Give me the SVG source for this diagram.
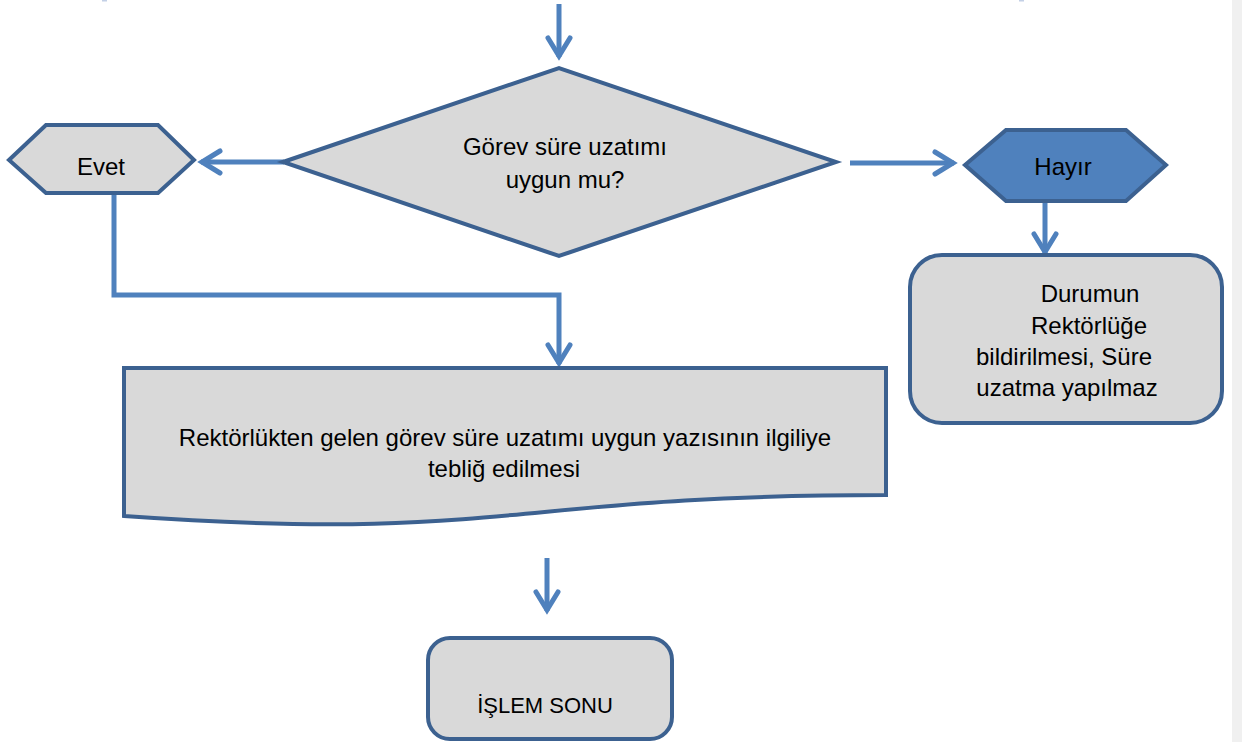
<svg xmlns="http://www.w3.org/2000/svg" width="1242" height="742" viewBox="0 0 1242 742">
  <defs>
    <style>
      .shape { fill: #d9d9d9; stroke: #3c6190; stroke-width: 4; stroke-linejoin: miter; }
      .dark { fill: #4f81bd; stroke: #3c6190; stroke-width: 4; }
      .conn { fill: none; stroke: #4f81bd; stroke-width: 5; stroke-linejoin: miter; }
      .lbl { font-family: "Liberation Sans", Arial, sans-serif; font-size: 24px; fill: #000; text-anchor: middle; }
    </style>
    <marker id="arrow" markerUnits="userSpaceOnUse" markerWidth="40" markerHeight="40" refX="0" refY="0" orient="auto" overflow="visible" viewBox="-30 -20 40 40">
      <path d="M-19,-11 L-1,0 L-19,11" fill="none" stroke="#4f81bd" stroke-width="5" stroke-linecap="round" stroke-linejoin="miter"/>
    </marker>
  </defs>

  <rect x="0" y="0" width="1242" height="742" fill="#ffffff"/>
  <rect x="1232" y="0" width="10" height="742" fill="#f0f0f0"/>
  <rect x="102" y="0" width="5" height="1.5" fill="#c3d0e6"/>
  <rect x="1019" y="0" width="5" height="1.5" fill="#c3d0e6"/>

  <g id="connectors">
    <path class="conn" d="M559,4 V57" marker-end="url(#arrow)"/>
    <path class="conn" d="M284,162 H201" marker-end="url(#arrow)"/>
    <path class="conn" d="M850,163 H954" marker-end="url(#arrow)"/>
    <path class="conn" d="M114,195 V295 H559 V364" marker-end="url(#arrow)"/>
    <path class="conn" d="M1045,202 V253" marker-end="url(#arrow)"/>
    <path class="conn" d="M547,558 V611" marker-end="url(#arrow)"/>
  </g>

  <g id="decision">
    <polygon class="shape" points="283,162 559,68 836,162 559,256"/>
    <text class="lbl" x="565" y="155">Görev süre uzatımı</text>
    <text class="lbl" x="565" y="188">uygun mu?</text>
  </g>

  <g id="evet">
    <polygon class="shape" points="9,160 46,125 158,125 194,160 158,193 46,193"/>
    <text class="lbl" x="101" y="175">Evet</text>
  </g>

  <g id="hayir">
    <polygon class="dark" points="965,165 1006,130 1126,130 1166,165 1126,201 1006,201"/>
    <text class="lbl" x="1063" y="175">Hayır</text>
  </g>

  <g id="durumun">
    <rect class="shape" x="910" y="255" width="312" height="168" rx="32" ry="32"/>
    <text class="lbl" x="1090" y="302">Durumun</text>
    <text class="lbl" x="1089" y="334">Rektörlüğe</text>
    <text class="lbl" x="1064" y="365">bildirilmesi, Süre</text>
    <text class="lbl" x="1067" y="396">uzatma yapılmaz</text>
  </g>

  <g id="teblig">
    <path class="shape" d="M124,368 H886 V495 C505,495 505,543 124,516 Z"/>
    <text class="lbl" x="505" y="446">Rektörlükten gelen görev süre uzatımı uygun yazısının ilgiliye</text>
    <text class="lbl" x="504" y="477">tebliğ edilmesi</text>
  </g>

  <g id="islem-sonu">
    <rect class="shape" x="428" y="638" width="244" height="101" rx="22" ry="22"/>
    <text class="lbl" x="545" y="713" style="font-size:22px">İŞLEM SONU</text>
  </g>
</svg>
